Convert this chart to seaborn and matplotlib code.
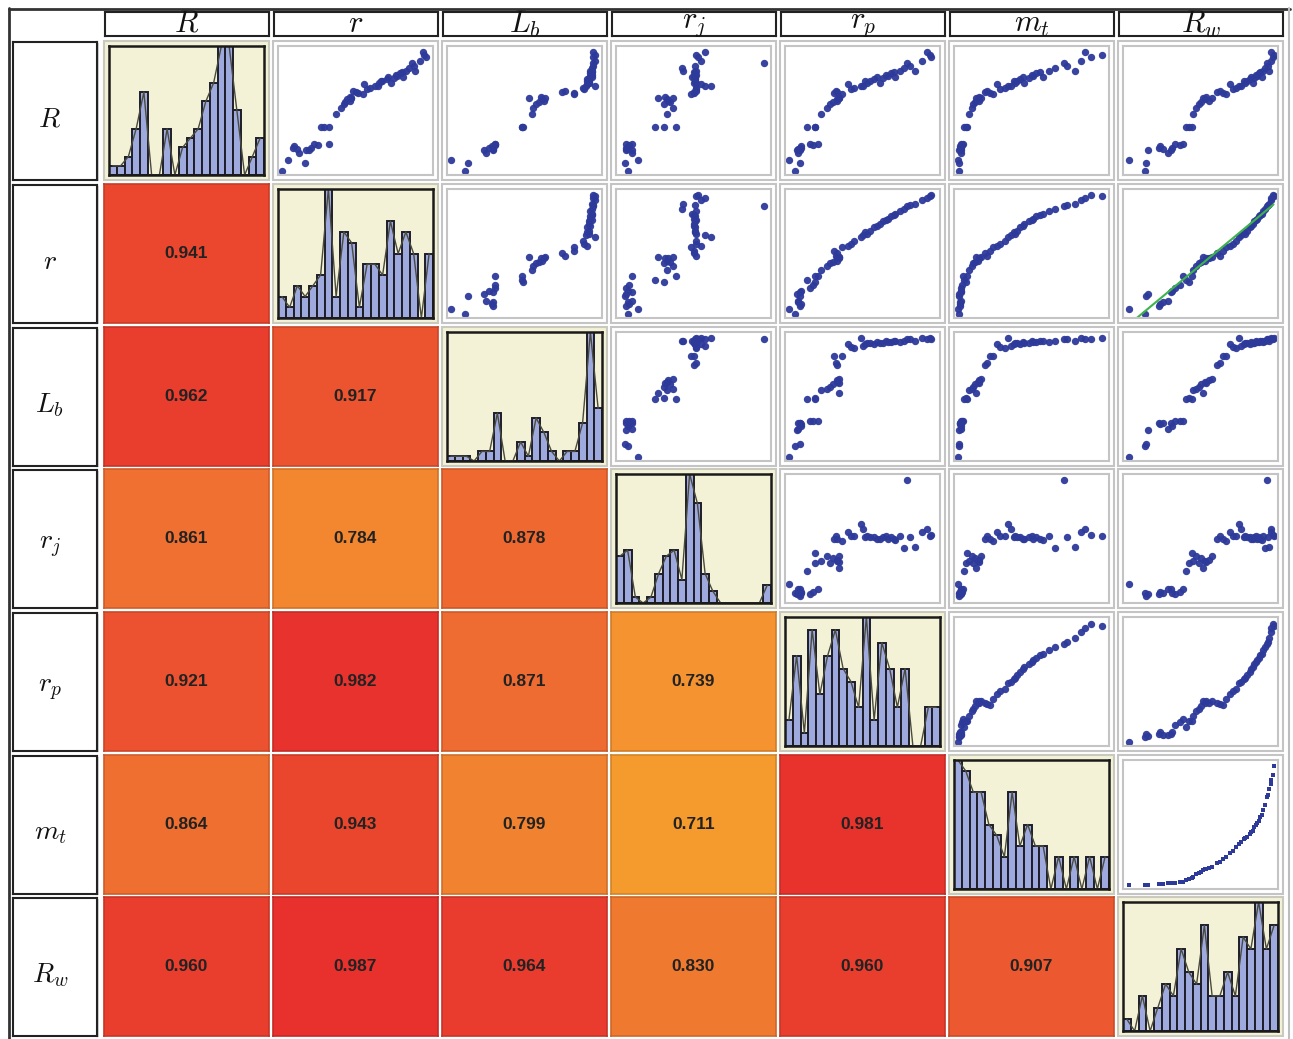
import numpy as np
import pandas as pd
import matplotlib
matplotlib.use("Agg")
import matplotlib.pyplot as plt
import seaborn as sns
from matplotlib.colors import LinearSegmentedColormap, to_rgb
from matplotlib.patches import Rectangle
from matplotlib.lines import Line2D

sns.set_theme(style="white")
plt.rcParams["mathtext.fontset"] = "cm"
plt.rcParams["font.family"] = ["Liberation Sans", "DejaVu Sans"]

# ---------------- data ----------------
labels = [r"$R$", r"$r$", r"$L_b$", r"$r_j$", r"$r_p$", r"$m_t$", r"$R_w$"]
keys = ["R", "r", "Lb", "rj", "rp", "mt", "Rw"]

# observations (normalised units), sorted by R_w
Rw = [0.02, 0.13, 0.135, 0.145, 0.22, 0.23, 0.25, 0.28, 0.30, 0.31, 0.33, 0.36, 0.38,
      0.40, 0.42, 0.44, 0.45, 0.47, 0.49, 0.50, 0.52, 0.53, 0.54, 0.56, 0.58, 0.61, 0.63,
      0.65, 0.67, 0.70, 0.72, 0.74, 0.76, 0.77, 0.79, 0.80, 0.81, 0.83, 0.84, 0.85, 0.86,
      0.87, 0.88, 0.89, 0.90, 0.91, 0.92, 0.93, 0.945, 0.95, 0.96, 0.97, 0.975, 0.985, 0.99]
R = [0.10, 0.01, 0.08, 0.18, 0.20, 0.21, 0.19, 0.16, 0.18, 0.20, 0.23, 0.22, 0.23,
     0.37, 0.37, 0.37, 0.47, 0.52, 0.55, 0.57, 0.60, 0.59, 0.61, 0.58, 0.60, 0.65, 0.66,
     0.64, 0.63, 0.71, 0.67, 0.68, 0.70, 0.70, 0.74, 0.72, 0.74, 0.75, 0.77, 0.72, 0.76,
     0.79, 0.78, 0.80, 0.81, 0.77, 0.82, 0.84, 0.88, 0.86, 0.82, 0.90, 0.97, 0.93, 0.95]
r = [0.05, 0.01, 0.16, 0.17, 0.08, 0.09, 0.11, 0.12, 0.19, 0.20, 0.22, 0.25, 0.32,
     0.29, 0.27, 0.32, 0.37, 0.40, 0.42, 0.43, 0.47, 0.44, 0.46, 0.46, 0.47, 0.50, 0.48,
     0.52, 0.55, 0.56, 0.58, 0.60, 0.63, 0.65, 0.67, 0.66, 0.68, 0.71, 0.72, 0.74, 0.76,
     0.77, 0.78, 0.80, 0.81, 0.82, 0.84, 0.86, 0.88, 0.89, 0.90, 0.93, 0.95, 0.97, 0.96]
Lb = [0.01, 0.10, 0.12, 0.23, 0.29, 0.28, 0.29, 0.24, 0.29, 0.26, 0.30, 0.30, 0.30,
      0.48, 0.49, 0.48, 0.55, 0.56, 0.58, 0.60, 0.53, 0.62, 0.61, 0.63, 0.64, 0.75, 0.77,
      0.83, 0.83, 0.92, 0.90, 0.89, 0.97, 0.91, 0.92, 0.93, 0.93, 0.92, 0.94, 0.93, 0.93,
      0.95, 0.94, 0.94, 0.95, 0.95, 0.94, 0.95, 0.96, 0.96, 0.95, 0.97, 0.96, 0.96, 0.97]
rj = [0.13, 0.06, 0.04, 0.05, 0.05, 0.07, 0.06, 0.09, 0.09, 0.06, 0.05, 0.07, 0.09,
      0.24, 0.30, 0.38, 0.32, 0.36, 0.30, 0.34, 0.26, 0.32, 0.31, 0.33, 0.36, 0.50, 0.52,
      0.50, 0.48, 0.55, 0.52, 0.52, 0.62, 0.58, 0.51, 0.52, 0.51, 0.51, 0.50, 0.50, 0.51,
      0.52, 0.50, 0.51, 0.50, 0.49, 0.52, 0.42, 0.97, 0.51, 0.43, 0.55, 0.58, 0.53, 0.52]
rp = [0.01, 0.05, 0.08, 0.06, 0.08, 0.09, 0.07, 0.07, 0.08, 0.09, 0.15, 0.17, 0.20,
      0.13, 0.18, 0.18, 0.22, 0.26, 0.28, 0.30, 0.34, 0.33, 0.34, 0.33, 0.34, 0.33, 0.32,
      0.31, 0.36, 0.40, 0.42, 0.44, 0.49, 0.50, 0.52, 0.53, 0.55, 0.58, 0.60, 0.62, 0.64,
      0.66, 0.67, 0.69, 0.71, 0.72, 0.75, 0.78, 0.80, 0.82, 0.85, 0.90, 0.93, 0.96, 0.95]
mt = [0.010, 0.012, 0.013, 0.014, 0.020, 0.021, 0.022, 0.025, 0.028, 0.029, 0.030, 0.035, 0.040,
      0.050, 0.060, 0.070, 0.080, 0.100, 0.110, 0.120, 0.130, 0.140, 0.145, 0.150, 0.160, 0.190, 0.200,
      0.220, 0.240, 0.270, 0.290, 0.320, 0.340, 0.360, 0.380, 0.390, 0.400, 0.420, 0.440, 0.450, 0.480,
      0.500, 0.510, 0.530, 0.560, 0.580, 0.620, 0.660, 0.720, 0.740, 0.790, 0.830, 0.860, 0.900, 0.970]

# histogram counts (20 bins per variable)
hist_R = [1, 1, 2, 5, 9, 0, 0, 5, 0, 3, 4, 5, 8, 10, 14, 14, 7, 0, 2, 4]
hist_r = [2, 1, 3, 2, 3, 4, 12, 2, 8, 7, 1, 5, 5, 4, 9, 6, 8, 6, 0, 6]
hist_Lb = [1, 1, 1, 0, 2, 2, 10, 0, 0, 4, 1, 9, 6, 2, 0, 2, 2, 8, 27, 11]
hist_rj = [8, 9, 1, 0, 1, 5, 8, 9, 4, 22, 17, 5, 2, 0, 0, 0, 0, 0, 0, 3]
hist_rp = [2, 7, 1, 9, 4, 7, 9, 6, 5, 3, 10, 2, 8, 6, 3, 6, 0, 0, 3, 3]
hist_mt = [12, 11, 9, 9, 6, 5, 3, 9, 4, 6, 4, 4, 0, 3, 0, 3, 0, 3, 0, 3]
hist_Rw = [1, 0, 3, 0, 2, 4, 3, 7, 5, 4, 9, 3, 3, 5, 3, 8, 7, 11, 7, 9]

# correlation coefficients (lower triangle, row by row)
corr_lower = [
    [],
    [0.941],
    [0.962, 0.917],
    [0.861, 0.784, 0.878],
    [0.921, 0.982, 0.871, 0.739],
    [0.864, 0.943, 0.799, 0.711, 0.981],
    [0.960, 0.987, 0.964, 0.830, 0.960, 0.907],
]

df = pd.DataFrame({"R": R, "r": r, "Lb": Lb, "rj": rj, "rp": rp, "mt": mt, "Rw": Rw})
hists = {"R": hist_R, "r": hist_r, "Lb": hist_Lb, "rj": hist_rj,
         "rp": hist_rp, "mt": hist_mt, "Rw": hist_Rw}

# ---------------- layout ----------------
W, H = 1293, 1039
fig = plt.figure(figsize=(W / 100, H / 100), dpi=100)
fig.patch.set_facecolor("white")

col_x = [104, 273, 442, 611, 780, 949, 1118]
row_y = [41, 184, 327, 469, 612, 755, 897]
cw, rh = 165, 139
inset = 5

cmap = LinearSegmentedColormap.from_list(
    "corr", [(0.0, "#F59B2E"), (0.54, "#EF7131"), (1.0, "#E8302D")])
vmin, vmax = 0.711, 0.987

dot_color = "#2D3A9A"
bar_color = "#9EA9DD"
beige = "#F3F2D6"
grey = "#C4C4C4"
nbins = len(hist_R)


def fax(x0, y0, w, h):
    return fig.add_axes([x0 / W, 1 - (y0 + h) / H, w / W, h / H])


def frect(x0, y0, w, h, **kw):
    rect = Rectangle((x0 / W, 1 - (y0 + h) / H), w / W, h / H,
                     transform=fig.transFigure, zorder=-5, **kw)
    fig.add_artist(rect)


def clean(ax):
    ax.set_xticks([])
    ax.set_yticks([])
    ax.set_xlabel("")
    ax.set_ylabel("")


# outer frame lines
fig.add_artist(Line2D([9 / W, 9 / W], [0, 1 - 8 / H], transform=fig.transFigure,
                      color="#333333", lw=2))
fig.add_artist(Line2D([9 / W, 1290 / W], [1 - 8.5 / H, 1 - 8.5 / H],
                      transform=fig.transFigure, color="#333333", lw=2))
fig.add_artist(Line2D([1289 / W, 1289 / W], [0, 1 - 8 / H], transform=fig.transFigure,
                      color="#BDBDBD", lw=1.5))

# column headers
for j, lab in enumerate(labels):
    ax = fax(col_x[j] + 1, 12, cw - 1, 24)
    clean(ax)
    ax.set_facecolor("white")
    for s in ax.spines.values():
        s.set_visible(True)
        s.set_color("#222222")
        s.set_linewidth(1.5)
    ax.text(0.5, 0.5, lab, transform=ax.transAxes, ha="center", va="center",
            fontsize=22, clip_on=False, color="#111111")

# row labels
for i, lab in enumerate(labels):
    frect(15, row_y[i] + 2, 84, rh - 1, facecolor="#D0D0D0", edgecolor="none")
    ax = fax(13, row_y[i] + 1, 84, rh - 1)
    clean(ax)
    ax.set_facecolor("white")
    for s in ax.spines.values():
        s.set_visible(True)
        s.set_color("#222222")
        s.set_linewidth(1.5)
    ax.text(0.44, 0.44, lab, transform=ax.transAxes, ha="center", va="center",
            fontsize=20, color="#111111")

centers = (np.arange(nbins) + 0.5) / nbins

for i, yk in enumerate(keys):
    for j, xk in enumerate(keys):
        x0, y0 = col_x[j], row_y[i]
        if i == j:
            counts = hists[xk]
            hdf = pd.DataFrame({"c": centers, "n": np.asarray(counts, dtype=float)})
            frect(x0, y0, cw, rh, facecolor=beige, edgecolor="#C9C9BE", lw=1.5)
            ax = fax(x0 + inset, y0 + inset, cw - 2 * inset, rh - 2 * inset)
            ax.set_facecolor(beige)
            sns.histplot(data=hdf, x="c", weights="n", bins=nbins, binrange=(0, 1), ax=ax,
                         color=bar_color, edgecolor="#1E1E2A", linewidth=1.4, alpha=1.0)
            sns.lineplot(data=hdf, x="c", y="n", ax=ax, color="#4A4A3E", linewidth=1.0)
            ax.set_xlim(0, 1)
            ax.set_ylim(0, max(counts))
            clean(ax)
            for s in ax.spines.values():
                s.set_visible(True)
                s.set_color("#1A1A1A")
                s.set_linewidth(1.8)
        elif i > j:
            v = corr_lower[i][j]
            ax = fax(x0, y0, cw, rh)
            sns.heatmap([[v]], ax=ax, cmap=cmap, vmin=vmin, vmax=vmax, cbar=False,
                        annot=True, fmt=".3f", xticklabels=False, yticklabels=False,
                        annot_kws={"fontsize": 12.5, "fontweight": "bold", "color": "#222222"})
            edge = tuple(c * 0.85 for c in to_rgb(cmap((v - vmin) / (vmax - vmin))))
            for s in ax.spines.values():
                s.set_visible(True)
                s.set_color(edge)
                s.set_linewidth(1.2)
            clean(ax)
        else:
            frect(x0, y0, cw, rh, facecolor="white", edgecolor=grey, lw=1.5)
            ax = fax(x0 + inset, y0 + inset, cw - 2 * inset, rh - 2 * inset)
            ax.set_facecolor("white")
            if yk == "r" and xk == "Rw":
                sns.regplot(data=df, x=xk, y=yk, ax=ax, ci=None,
                            scatter_kws=dict(s=28, color=dot_color, linewidths=0, alpha=0.95),
                            line_kws=dict(color="#3CB44B", lw=1.5))
            elif yk == "mt" and xk == "Rw":
                sns.scatterplot(data=df, x=xk, y=yk, ax=ax, color=dot_color,
                                marker="s", s=10, linewidth=0)
            else:
                sns.scatterplot(data=df, x=xk, y=yk, ax=ax, color=dot_color,
                                s=28, linewidth=0, alpha=0.95)
            ax.set_xlim(-0.02, 1.02)
            ax.set_ylim(-0.02, 1.02)
            clean(ax)
            for s in ax.spines.values():
                s.set_visible(True)
                s.set_color(grey)
                s.set_linewidth(1.5)

fig.savefig("out.png", dpi=100, facecolor="white")
